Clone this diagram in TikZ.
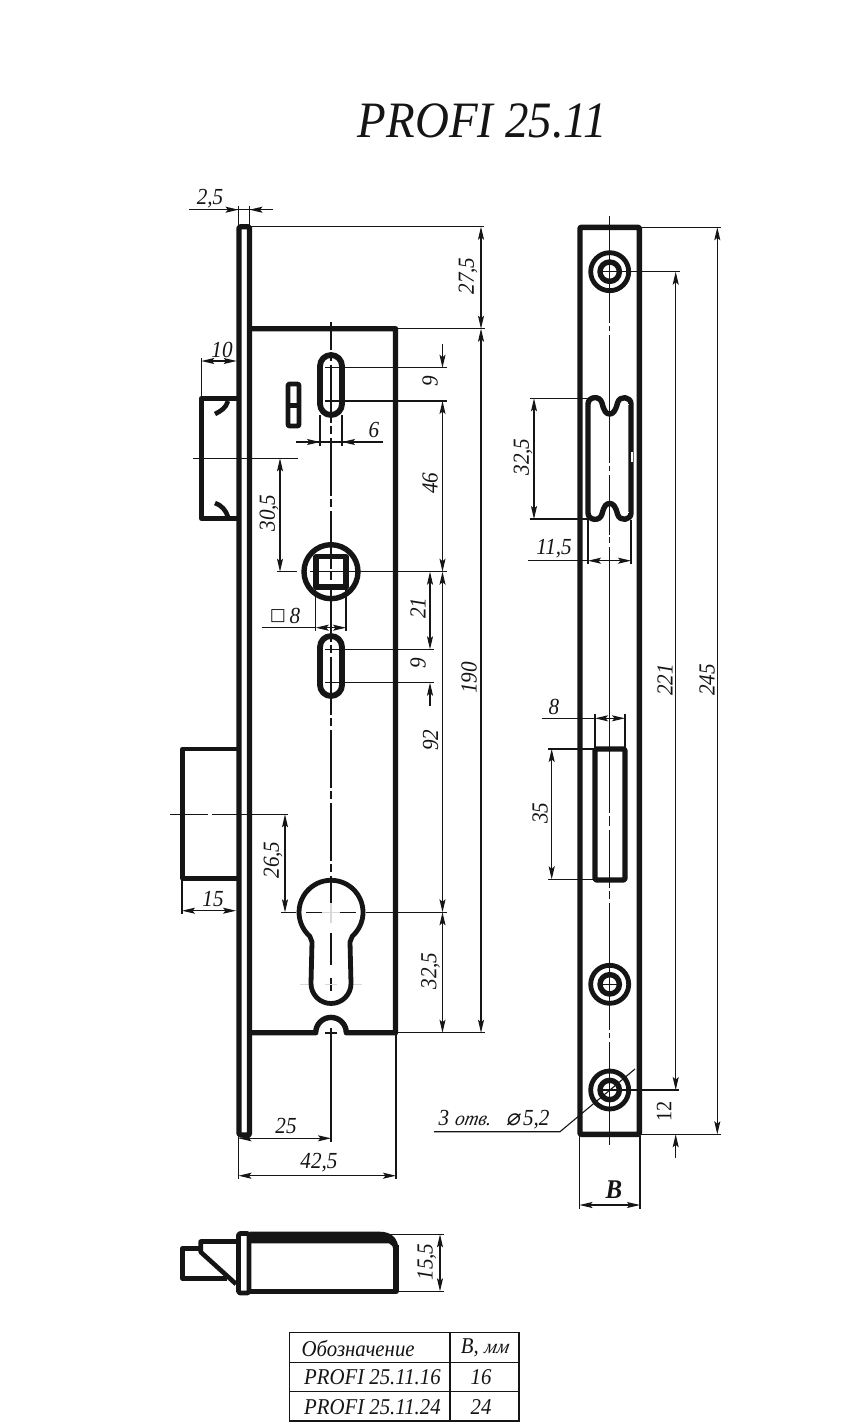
\documentclass[tikz,border=0pt]{standalone}
\usepackage{fontspec}
\setmainfont[FakeStretch=0.92]{Liberation Serif}
\newfontfamily\djv{DejaVu Sans}
\newfontfamily\djvo[FakeSlant=0.2]{DejaVu Sans}
\newfontfamily\slanted[FakeSlant=0.2,FakeStretch=0.95]{Liberation Serif}
\usetikzlibrary{arrows.meta}
\definecolor{ink}{HTML}{151515}
\definecolor{faint}{HTML}{D8D8D8}
\tikzset{
  >={Stealth[length=13pt,width=6pt,inset=2.5pt]},
  heavy/.style={draw=ink,line width=5.4pt,line join=round},
  medium/.style={draw=ink,line width=4.6pt,line join=round},
  thin line/.style={draw=ink,line width=1.1pt},
  dimen/.style={thin line,<->},
  onetip/.style={thin line,->},
  axisA/.style={draw=ink,line width=1.7pt,dash pattern=on 58pt off 3pt on 8pt off 4pt,dash phase=30pt},
  lab/.style={font=\itshape\fontsize{23}{23}\selectfont,inner sep=0pt,text=ink},
  vlab/.style={lab,rotate=90},
  celltext/.style={font=\itshape\fontsize{22.6}{23}\selectfont,inner sep=0pt,text=ink},
  faintline/.style={draw=faint,line width=1.6pt},
}
\begin{document}
\begin{tikzpicture}[x=1pt,y=-1pt]
\useasboundingbox[fill=white] (0,0) rectangle (867,1424);
% title
\node[font=\itshape\fontsize{51}{51}\selectfont,inner sep=0pt,text=ink] (title) at (482.5,121) {PROFI 25.11};

% ---------- front view ----------
% extension lines
\draw[thin line] (238.5,206) -- (238.5,226) (249.5,206) -- (249.5,226);
\draw[thin line] (250,226.7) -- (484,226.7);
\draw[thin line] (396,328.7) -- (485,328.7);
\draw[thin line] (396,1032.7) -- (485,1032.7);
\draw[thin line] (325,367.7) -- (446.5,367.7) (325,401) -- (446.5,401);
\draw[thin line] (320,415) -- (320,446) (342,415) -- (342,446);
\draw[thin line] (193,458.3) -- (298.3,458.3);
\draw[thin line] (277,571.7) -- (297,571.7) (310,571.7) -- (446.5,571.7);
\draw[thin line] (315.7,589) -- (315.7,631) (346,589) -- (346,631);
\draw[thin line] (325,649.3) -- (433.5,649.3) (325,682.7) -- (433.5,682.7);
\draw[thin line] (201.3,358) -- (201.3,398);
\draw[thin line] (182,878) -- (182,914);
\draw[thin line] (170,814.3) -- (208,814.3) (212,814.3) -- (288,814.3);
\draw[thin line] (281,912.3) -- (296,912.3) (366,912.3) -- (446.5,912.3);
\draw[thin line] (331,1036) -- (331,1142);
\draw[thin line] (238.5,1137) -- (238.5,1178.5) (396,1034) -- (396,1178.5);

% dimension lines
\draw[thin line] (189,209.7) -- (273,209.7);
\draw[onetip] (200,209.7) -- (238.5,209.7);
\draw[onetip] (272,209.7) -- (249.5,209.7);
\draw[dimen] (481,226.7) -- (481,328.7);
\draw[dimen] (481,328.7) -- (481,1032.7);
\draw[onetip] (442.5,344) -- (442.5,367.7);
\draw[dimen] (442.5,401) -- (442.5,571.7);
\draw[dimen] (442.5,571.7) -- (442.5,912.3);
\draw[dimen] (442.5,912.3) -- (442.5,1032.7);
\draw[dimen] (201.3,361) -- (236.7,361);
\draw[thin line] (296,442) -- (383,442);
\draw[onetip] (296,442) -- (320,442);
\draw[onetip] (383,442) -- (342,442);
\draw[dimen] (280,458.3) -- (280,571.7);
\draw[thin line] (261.7,627.7) -- (315.7,627.7);
\draw[dimen] (315.7,627.7) -- (346,627.7);
\draw[dimen] (430,571.7) -- (430,649.3);
\draw[onetip] (430,706) -- (430,682.7);
\draw[dimen] (285,814.3) -- (285,912.3);
\draw[dimen] (182,910.7) -- (236,910.7);
\draw[dimen] (238.5,1138.3) -- (331,1138.3);
\draw[dimen] (238.5,1175.7) -- (396,1175.7);

% axis of front view
\draw[axisA] (331,322) -- (331,908);
\draw[faintline] (296,912.3) -- (301,912.3) (361,912.3) -- (366,912.3) (322,912.3) -- (340,912.3)
  (331,903) -- (331,923);
\draw[draw=ink,line width=1.6pt] (306,912.3) -- (322,912.3) (340,912.3) -- (356,912.3);
\draw[draw=ink,line width=1.7pt] (331,933) -- (331,965) (331,978) -- (331,991) (331,1028) -- (331,1036);
\draw[draw=ink,line width=1.6pt] (325,1033) -- (337,1033);
\draw[faintline] (300,984.5) -- (310,984.5) (325,984.5) -- (337,984.5) (352,984.5) -- (362,984.5);

% faceplate
\draw[heavy,rounded corners=2pt] (239,226.7) rectangle (249.5,1135);
% body
\draw[heavy] (250,328.7) -- (395.5,328.7) -- (395.5,1032.7) -- (349,1032.7) -- (346.3,1032.7)
  arc[start angle=360,end angle=180,radius=15.3] -- (313,1032.7) -- (250,1032.7);
% slots
\draw[heavy,line width=5.8pt] (320,366) arc[start angle=180,end angle=360,radius=11] -- (342,404)
  arc[start angle=0,end angle=180,radius=11] -- cycle;
\draw[heavy,line width=5.8pt] (320,647) arc[start angle=180,end angle=360,radius=11] -- (342,685)
  arc[start angle=0,end angle=180,radius=11] -- cycle;
% small window
\draw[medium,rounded corners=1pt] (288,384) rectangle (299,426);
\draw[draw=ink,line width=5pt] (288,405) -- (299,405);
% latch
\draw[medium] (237,398.3) -- (201.3,398.3) -- (201.3,518.3) -- (237,518.3);
\draw[medium] (228,401) .. controls (226,408) and (221,411) .. (215,414);
\draw[medium] (228,517) .. controls (226,510) and (221,505) .. (215,503);
% spindle
\draw[heavy] (331,571.7) circle[radius=27];
\draw[heavy] (316,556.5) rectangle (346,587);
% bolt
\draw[medium] (237,749) -- (182.7,749) -- (182.7,878.3) -- (237,878.3);
% key hole
\draw[heavy,line width=4.8pt] (309.8,936.2) arc[start angle=131.6,end angle=408.4,radius=32]
  -- (350,942) -- (351,983.5)
  arc[start angle=0,end angle=180,radius=20] -- (312,942) -- cycle;

% front view labels
\node[lab] (l1) at (210,198.5) {2,5};
\node[vlab] (l2) at (468,276) {27,5};
\node[lab] (l3) at (222,350) {10};
\node[vlab] (l4) at (430,381.5) {9};
\node[lab] (l5) at (374,430) {6};
\node[vlab] (l6) at (430,483) {46};
\node[vlab] (l7) at (269,513) {30,5};
\node[font=\djv\fontsize{17}{17}\selectfont,inner sep=0pt,text=ink] (l8a) at (278,616) {□};
\node[lab] (l8b) at (295,616) {8};
\node[vlab] (l9) at (418,608) {21};
\node[vlab] (l10) at (418,663) {9};
\node[vlab] (l11) at (469,678) {190};
\node[vlab] (l12) at (430.5,740) {92};
\node[vlab] (l13) at (273,860) {26,5};
\node[lab] (l14) at (213,899) {15};
\node[vlab] (l15) at (430.5,971) {32,5};
\node[lab] (l16) at (286,1126) {25};
\node[lab] (l17) at (319,1163) {42,5};

% ---------- side view ----------
\draw[thin line] (530,398.3) -- (590,398.3) (530,519) -- (590,519);
\draw[thin line] (588,520) -- (588,564) (631,520) -- (631,564);
\draw[thin line] (595,714) -- (595,748) (625,714) -- (625,748);
\draw[thin line] (548,749) -- (595,749) (548,879.3) -- (595,879.3);
\draw[thin line] (620,271.7) -- (680,271.7);
\draw[thin line] (620,1090) -- (679,1090);
\draw[thin line] (640,227.3) -- (721,227.3) (640,1134.3) -- (721,1134.3);
\draw[thin line] (579.5,1136) -- (579.5,1209) (640,1136) -- (640,1209);

\draw[dimen] (534,398.3) -- (534,519);
\draw[thin line] (528,560.7) -- (588,560.7);
\draw[dimen] (588,560.7) -- (631,560.7);
\draw[thin line] (541.7,718.3) -- (595,718.3);
\draw[dimen] (595,718.3) -- (625,718.3);
\draw[dimen] (551.7,749) -- (551.7,879.3);
\draw[dimen] (675.7,271.7) -- (675.7,1090);
\draw[onetip] (675.7,1158) -- (675.7,1134.3);
\draw[dimen] (717.3,227.3) -- (717.3,1134.3);
\draw[dimen] (579.5,1205) -- (640,1205);

% axis of side view, with its gaps
\draw[thin line] (609.7,216) -- (609.7,323) (609.7,326) -- (609.7,331) (609.7,335) -- (609.7,463)
  (609.7,466) -- (609.7,471) (609.7,475) -- (609.7,535) (609.7,537) -- (609.7,543) (609.7,547) -- (609.7,813)
  (609.7,816) -- (609.7,826) (609.7,830) -- (609.7,888) (609.7,891) -- (609.7,899) (609.7,903) -- (609.7,1030)
  (609.7,1033) -- (609.7,1038) (609.7,1042) -- (609.7,1145);

% plate
\draw[heavy,rounded corners=1pt] (580,227.3) rectangle (639.3,1134.3);
% screws
\foreach \yy in {271.7,984.3,1090}{
  \draw[medium,line width=4.8pt] (609.7,\yy) circle[radius=19];
  \draw[heavy] (609.7,\yy) circle[radius=9.7];
  \draw[thin line] (600,\yy) -- (620,\yy);
}
% bolt window with lobes
\draw[heavy] (588,404) .. controls (588,396.5) and (600,395) .. (602,403)
  .. controls (604,411) and (606,414) .. (609.7,414) .. controls (613,414) and (615.5,411) .. (617.5,403)
  .. controls (619.5,395) and (631,396.5) .. (631,404) -- (631,513)
  .. controls (631,520.5) and (619.5,522) .. (617.5,514)
  .. controls (615.5,506) and (613,503.5) .. (609.7,503.5) .. controls (606,503.5) and (604,506) .. (602,514)
  .. controls (600,522) and (588,520.5) .. (588,513) -- cycle;
\fill[white] (630.5,451.7) rectangle (632.5,462);
\draw[draw=white,line width=.8pt] (591,404) -- (598,404) (622,404) -- (629,404)
  (591,512.5) -- (598,512.5) (622,512.5) -- (629,512.5);
% strike window
\draw[heavy,rounded corners=1.5pt] (595,749) rectangle (625,880);
% leader
\draw[thin line] (434,1131.7) -- (560,1131.7) -- (635,1069);

% side view labels
\node[vlab] (r1) at (523,457) {32,5};
\node[lab] (r2) at (554,549) {11,5};
\node[lab] (r3) at (554,706.5) {8};
\node[vlab] (r4) at (540,813) {35};
\node[vlab] (r5) at (665,680) {221};
\node[vlab] (r6) at (707,680) {245};
\node[vlab,font=\fontsize{22}{22}\selectfont] (r7) at (664,1111) {12};
\node[lab] (r8) at (494,1120) {3 {\slanted\fontsize{20}{20}\selectfont отв.}\,\, {\djvo\fontsize{23}{23}\selectfont ⌀}\,5,2};
\node[font=\bfseries\itshape\fontsize{27}{27}\selectfont,inner sep=0pt,text=ink] (r9) at (614,1190) {B};

% ---------- bottom view ----------
\draw[thin line] (385,1234.3) -- (443.5,1234.3) (396,1291.3) -- (443.5,1291.3);
\draw[dimen] (440,1234.3) -- (440,1291.3);
\draw[heavy,line width=4.8pt,rounded corners=2pt] (238.5,1233.5) rectangle (249,1293);
\fill[ink] (250,1231.7) -- (380,1231.7) .. controls (391,1231.7) and (398.5,1238) .. (398.5,1250)
  -- (393.5,1250) .. controls (393.5,1247) and (392,1244.5) .. (389,1243.3) -- (250,1243.3) -- cycle;
\draw[heavy] (396,1245) -- (396,1291.3) -- (250,1291.3);
\draw[medium] (237,1241.5) -- (200.7,1241.5) -- (200.7,1252) -- (236,1284);
\draw[medium] (200.7,1248.3) -- (182.3,1248.3) -- (182.3,1278.3) -- (226.7,1278.3);
\node[vlab] (b1) at (426.7,1262) {15,5};

% ---------- table ----------
\draw[thin line] (289.3,1332.3) rectangle (519,1421);
\draw[thin line] (289.3,1362.7) -- (519,1362.7) (289.3,1391.7) -- (519,1391.7) (450,1332.3) -- (450,1421);
\node[celltext,anchor=west] (c1) at (301.5,1349) {Обозначение};
\node[celltext,anchor=center] (c2) at (484.5,1347.5) {B, {\slanted\fontsize{20}{20}\selectfont мм}};
\node[celltext,anchor=west] (c3) at (304,1377.5) {PROFI 25.11.16};
\node[celltext] (c4) at (481,1377.5) {16};
\node[celltext,anchor=west] (c5) at (304,1407) {PROFI 25.11.24};
\node[celltext] (c6) at (481,1407) {24};
\end{tikzpicture}
\end{document}
